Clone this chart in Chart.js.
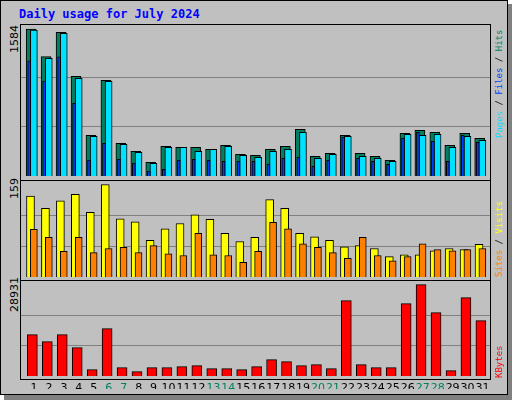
<!DOCTYPE html>
<html><head><meta charset="utf-8">
<script src="https://cdn.jsdelivr.net/npm/chart.js@4/dist/chart.umd.min.js"></script>
<style>
html,body{margin:0;padding:0;background:#fff;}
#frame{position:absolute;left:0;top:0;width:508px;height:395px;background:#c0c0c0;border:1px solid #000;box-sizing:border-box;}
#shadowR{position:absolute;left:508px;top:4px;width:4px;height:396px;background:#808080;}
#shadowB{position:absolute;left:4px;top:395px;width:508px;height:5px;background:#808080;}
.panel{position:absolute;border:1px solid #000;box-sizing:border-box;}
canvas{position:absolute;}
.rot{position:absolute;transform:rotate(-90deg);transform-origin:left top;white-space:nowrap;}
.rl{font:9px "DejaVu Sans Mono",monospace;}
.ll{font:11px "DejaVu Sans",sans-serif;color:#000;}
#title{position:absolute;left:19px;top:7px;font:bold 12px "DejaVu Sans Mono",monospace;color:#0000ff;}
</style></head><body>
<div id="frame"></div><div id="shadowR"></div><div id="shadowB"></div>
<div id="title">Daily usage for July 2024</div>
<div class="panel" style="left:20px;top:24px;width:471px;height:157px"></div>
<div class="panel" style="left:20px;top:180px;width:471px;height:101px"></div>
<div class="panel" style="left:20px;top:280px;width:471px;height:100px"></div>
<canvas id="c1"></canvas><canvas id="c2"></canvas><canvas id="c3"></canvas><canvas id="c4"></canvas>
<div class="rot ll" style="left:8px;top:53px">1584</div>
<div class="rot ll" style="left:8px;top:199px">159</div>
<div class="rot ll" style="left:8px;top:312px">28931</div>
<div class="rot rl" style="left:494px;top:138px"><span style="color:#00e0ff">Pages</span> / <span style="color:#0040ff">Files</span> / <span style="color:#008060">Hits</span></div>
<div class="rot rl" style="left:494px;top:277px"><span style="color:#ff8000">Sites</span> / <span style="color:#ffff00">Visits</span></div>
<div class="rot rl" style="left:494px;top:378px"><span style="color:#ff0000">KBytes</span></div>
<script>
const days = Array.from({length:31},(_,i)=>i+1);
const weekendDays = [6,7,13,14,20,21,27,28];
const hits  = [1584,1286,1549,1075,438,1031,352,266,147,320,309,309,288,331,234,223,288,320,503,212,244,438,244,212,169,460,492,471,331,460,406];
const files = [1573,1268,1538,1053,427,1020,341,255,136,309,309,266,288,320,223,201,266,288,471,190,234,427,212,190,158,449,438,449,309,427,385];
const pages = [1240,1024,1283,784,172,352,180,140,54,72,169,180,169,158,158,158,126,190,201,104,169,420,190,158,126,406,471,374,158,438,363];
const visits= [139,118,131,142,111,159,100,95,63,83,92,107,99,75,61,68,133,118,75,69,63,52,54,49,35,38,38,45,49,47,56];
const sites = [82,68,44,68,42,49,51,42,54,40,37,75,38,37,25,44,94,83,57,51,42,32,68,37,28,35,57,47,45,47,49];
const kbytes= [13094,10877,13094,8976,2006,14995,2640,1373,2640,2640,2957,3274,2323,2323,2006,2957,5174,4541,3274,3590,2323,23866,3590,2640,2640,22915,28931,20064,1690,24816,17530];

function place(id,l,t,w,h){const c=document.getElementById(id);c.style.left=l+'px';c.style.top=t+'px';c.width=w;c.height=h;return c;}
function ds(vals,off,color,w,order){
  return {data:vals.map((v,i)=>({x:days[i]+off,y:v})),backgroundColor:color,borderColor:'#000',borderWidth:1,barThickness:w,order:order,grouped:false};
}
function make(id,datasets,ymax,grids,showX,xmin,xmax){
  return new Chart(document.getElementById(id),{type:'bar',data:{datasets},
    options:{responsive:false,animation:false,events:[],
      plugins:{legend:{display:false},tooltip:{enabled:false}},
      layout:{padding:0},
      scales:{
        x:{type:'linear',min:xmin,max:xmax,offset:false,display:showX,
           grid:{display:false},border:{display:false},
           afterBuildTicks:s=>{s.ticks=days.map(d=>({value:d}));},
           ticks:{autoSkip:false,maxRotation:0,padding:0,
             font:{family:'DejaVu Sans',size:11},
             color:c=>weekendDays.includes(c.tick.value)?'#008060':'#000'}},
        y:{min:0,max:ymax,display:!showX,
           afterBuildTicks:s=>{s.ticks=grids.map(v=>({value:v}));},
           ticks:{display:false},border:{display:false},
           grid:{color:'#808080',lineWidth:1,drawTicks:false}}
      }}});
}
const XMIN=0.13, XMAX=31.5, UPX=(XMAX-XMIN)/469;
place('c1',21,25,469,151);
place('c2',21,181,469,96);
place('c3',21,281,469,95);
place('c4',1,358,509,31);
make('c1',[ds(hits,-0.19,'#008060',10,3),ds(files,-0.01,'#00e0ff',7,2),ds(pages,-0.32,'#0040ff',3,1)],1627,[528,1056],false,XMIN,XMAX);
make('c2',[ds(visits,-0.235,'#ffff00',8,2),ds(sites,-0.01,'#ff8000',7,1)],165,[53,106],false,XMIN,XMAX);
make('c3',[ds(kbytes,-0.11,'#ff0000',10,1)],30100,[9644,19287],false,XMIN,XMAX);
make('c4',[{data:days.map(d=>({x:d,y:0})),backgroundColor:'rgba(0,0,0,0)',borderWidth:0}],10,[],true,XMIN-20*UPX,XMAX+20*UPX);
</script>
</body></html>
